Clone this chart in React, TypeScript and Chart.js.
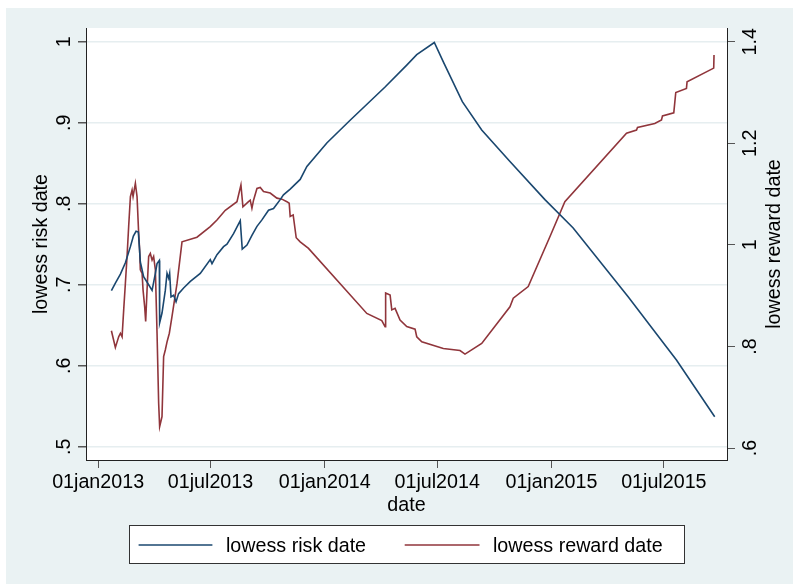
import React, { useEffect, useRef } from "react";
import { Chart, registerables } from "chart.js";

Chart.register(...registerables);

// ---- data (x = days since 01jan2013) ----
const xTickDays = [0, 181, 365, 546, 730, 911];
const xTickLabels = ["01jan2013", "01jul2013", "01jan2014", "01jul2014", "01jan2015", "01jul2015"];
const leftTicks = [0.5, 0.6, 0.7, 0.8, 0.9, 1];
const leftTickLabels = [".5", ".6", ".7", ".8", ".9", "1"];
const rightTicks = [0.6, 0.8, 1, 1.2, 1.4];
const rightTickLabels = [".6", ".8", "1", "1.2", "1.4"];

const riskDays = [
  21.4, 27.8, 35.9, 43.9, 52.0, 56.8, 61.1, 64.8, 66.4, 68.0, 73.3, 81.4, 86.9, 92.2, 94.9, 98.6,
  99.1, 102.9, 108.2, 111.0, 113.6, 115.2, 117.4, 121.6, 125.5, 129.6, 137.7, 148.5, 164.5, 180.6,
  183.4, 191.4, 202.0, 207.5, 218.1, 228.9, 232.1, 239.7, 247.7, 255.8, 263.8, 274.4, 282.5, 293.2,
  298.5, 309.3, 325.4, 336.2, 368.3, 405.8, 462.1, 497.0, 513.1, 541.4, 555.9, 586.5, 617.7, 663.2,
  719.5, 765.0, 853.5, 904.5, 931.3, 992.9,
];
const riskValues = [
  0.6926, 0.702, 0.713, 0.727, 0.747, 0.760, 0.766, 0.765, 0.747, 0.728, 0.710, 0.700, 0.693, 0.714, 0.726, 0.730,
  0.653, 0.665, 0.693, 0.714, 0.708, 0.714, 0.685, 0.687, 0.679, 0.689, 0.696, 0.704, 0.714, 0.731,
  0.726, 0.737, 0.747, 0.750, 0.763, 0.779, 0.744, 0.749, 0.761, 0.772, 0.780, 0.792, 0.794, 0.805,
  0.811, 0.818, 0.830, 0.846, 0.875, 0.903, 0.944, 0.971, 0.984, 0.999, 0.975, 0.926, 0.891, 0.852,
  0.805, 0.770, 0.685, 0.634, 0.607, 0.537,
];

const rewardDays = [
  21.4, 27.8, 30.6, 33.1, 35.9, 38.6, 41.2, 43.9, 46.6, 49.2, 52.0, 54.7, 56.3, 60.0, 62.7, 65.3,
  66.9, 68.0, 70.8, 72.4, 75.0, 76.6, 78.8, 81.4, 84.1, 86.9, 89.4, 92.2, 94.9, 97.5, 99.1, 102.9,
  105.5, 108.2, 111.0, 114.7, 119.0, 127.1, 135.1, 159.2, 180.6, 191.4, 204.8, 223.6, 230.0, 233.2,
  242.2, 245.0, 247.7, 250.3, 255.8, 261.1, 266.4, 277.1, 287.9, 296.0, 304.0, 307.7, 309.3, 314.1,
  319.0, 325.4, 338.8, 432.7, 456.8, 462.1, 463.0, 470.2, 472.9, 478.2, 486.2, 497.0, 510.4, 513.1,
  521.2, 555.9, 582.8, 590.8, 617.7, 663.2, 668.5, 692.6, 727.5, 751.6, 850.9, 867.0, 868.6, 896.4,
  907.2, 908.8, 927.0, 930.2, 947.4, 948.4, 991.3, 991.8,
];
const rewardValues = [
  0.831, 0.798, 0.809, 0.819, 0.826, 0.819, 0.872, 0.924, 0.977, 1.036, 1.095, 1.108, 1.095, 1.121, 1.095, 1.023,
  0.990, 0.951, 0.944, 0.911, 0.878, 0.849, 0.911, 0.977, 0.983, 0.970, 0.977, 0.951, 0.826, 0.688, 0.642, 0.662,
  0.780, 0.793, 0.809, 0.826, 0.859, 0.924, 1.006, 1.015, 1.036, 1.049, 1.068, 1.085, 1.118, 1.075,
  1.085, 1.088, 1.072, 1.088, 1.111, 1.113, 1.105, 1.102, 1.092, 1.090, 1.085, 1.082, 1.056, 1.059,
  1.014, 1.006, 0.993, 0.865, 0.851, 0.839, 0.905, 0.901, 0.872, 0.875, 0.852, 0.839, 0.834, 0.819,
  0.809, 0.796, 0.792, 0.785, 0.806, 0.878, 0.895, 0.918, 1.016, 1.085, 1.220, 1.226, 1.231, 1.239,
  1.246, 1.254, 1.260, 1.300, 1.308, 1.321, 1.348, 1.374,
];

const seriesNames = ["lowess risk date", "lowess reward date"];
const xTitle = "date";
const leftTitle = "lowess risk date";
const rightTitle = "lowess reward date";

const BLUE = "#1A476F";
const RED = "#90353B";
const BG = "#EAF2F3";
const FONT = '"Liberation Sans", Arial, Helvetica, sans-serif';
const FS = 19.7;

const stataPlugin = {
  id: "stataLook",
  beforeDraw(chart: any) {
    const { ctx, chartArea: a } = chart;
    ctx.save();
    ctx.fillStyle = "#ffffff";
    ctx.fillRect(0, 0, chart.width, chart.height);
    ctx.fillStyle = BG;
    ctx.fillRect(6, 8, chart.width - 6, chart.height - 8);
    ctx.fillStyle = "#ffffff";
    ctx.fillRect(a.left, a.top, a.right - a.left, a.bottom - a.top);
    ctx.restore();
  },
  afterDraw(chart: any) {
    const { ctx, chartArea: a } = chart;
    const xs = chart.scales.x;
    const yl = chart.scales.y;
    const yr = chart.scales.y1;
    ctx.save();
    ctx.fillStyle = "#000";
    ctx.font = `${FS}px ${FONT}`;
    ctx.textBaseline = "alphabetic";
    ctx.textAlign = "center";
    // x tick labels
    xTickDays.forEach((d, i) => {
      ctx.fillText(xTickLabels[i], xs.getPixelForValue(d), 488);
    });
    // x title
    ctx.fillText(xTitle, (a.left + a.right) / 2, 511);
    const rot = (txt: string, x: number, y: number) => {
      ctx.save();
      ctx.translate(x, y);
      ctx.rotate(-Math.PI / 2);
      ctx.fillText(txt, 0, 0);
      ctx.restore();
    };
    leftTicks.forEach((v, i) => rot(leftTickLabels[i], 70, yl.getPixelForValue(v)));
    rightTicks.forEach((v, i) => rot(rightTickLabels[i], 755.5, yr.getPixelForValue(v)));
    const midY = (a.top + a.bottom) / 2;
    rot(leftTitle, 47, midY);
    rot(rightTitle, 780, midY);

    // legend
    ctx.fillStyle = "#fff";
    ctx.fillRect(129.5, 525.5, 555, 38);
    ctx.strokeStyle = "#333";
    ctx.lineWidth = 1;
    ctx.strokeRect(129.5, 525.5, 555, 38);
    ctx.lineWidth = 1.6;
    ctx.strokeStyle = BLUE;
    ctx.beginPath();
    ctx.moveTo(138.6, 545);
    ctx.lineTo(212.4, 545);
    ctx.stroke();
    ctx.strokeStyle = RED;
    ctx.beginPath();
    ctx.moveTo(404.7, 545);
    ctx.lineTo(479.5, 545);
    ctx.stroke();
    ctx.fillStyle = "#000";
    ctx.textAlign = "left";
    ctx.fillText(seriesNames[0], 226, 552);
    ctx.fillText(seriesNames[1], 493, 552);
    ctx.restore();
  },
};

export default function App() {
  const ref = useRef<HTMLCanvasElement | null>(null);
  useEffect(() => {
    if (!ref.current) return;
    const chart = new Chart(ref.current, {
      type: "line",
      data: {
        datasets: [
          {
            label: seriesNames[0],
            data: riskDays.map((d, i) => ({ x: d, y: riskValues[i] })),
            borderColor: BLUE,
            borderWidth: 1.6,
            pointRadius: 0,
            tension: 0,
            yAxisID: "y",
          },
          {
            label: seriesNames[1],
            data: rewardDays.map((d, i) => ({ x: d, y: rewardValues[i] })),
            borderColor: RED,
            borderWidth: 1.6,
            pointRadius: 0,
            tension: 0,
            yAxisID: "y1",
          },
        ],
      },
      options: {
        responsive: false,
        animation: false,
        devicePixelRatio: 1,
        layout: { padding: { top: 28, left: 0, right: 0, bottom: 0 } },
        plugins: { legend: { display: false }, tooltip: { enabled: false } },
        scales: {
          x: {
            type: "linear",
            position: "bottom",
            min: -19.5,
            max: 1012.7,
            afterBuildTicks: (s: any) => {
              s.ticks = xTickDays.map((v) => ({ value: v }));
            },
            afterFit: (s: any) => {
              s.height = 124;
            },
            ticks: { display: false },
            grid: { drawOnChartArea: false, drawTicks: true, tickLength: 8, tickColor: "#555", lineWidth: 1 },
            border: { display: true, color: "#222", width: 1 },
          },
          y: {
            type: "linear",
            position: "left",
            min: 0.4836,
            max: 1.0169,
            afterBuildTicks: (s: any) => {
              s.ticks = leftTicks.map((v) => ({ value: v }));
            },
            afterFit: (s: any) => {
              s.width = 86;
            },
            ticks: { display: false },
            grid: { drawOnChartArea: true, color: "#E6EEF0", drawTicks: true, tickLength: 8, tickColor: "#555", lineWidth: 1.5 },
            border: { display: true, color: "#222", width: 1 },
          },
          y1: {
            type: "linear",
            position: "right",
            min: 0.5764,
            max: 1.427,
            afterBuildTicks: (s: any) => {
              s.ticks = rightTicks.map((v) => ({ value: v }));
            },
            afterFit: (s: any) => {
              s.width = 66;
            },
            ticks: { display: false },
            grid: { drawOnChartArea: false, drawTicks: true, tickLength: 8, tickColor: "#555", lineWidth: 1 },
            border: { display: true, color: "#222", width: 1 },
          },
        },
      },
      plugins: [stataPlugin],
    } as any);
    return () => chart.destroy();
  }, []);
  return (
    <div style={{ position: "fixed", left: 0, top: 0, width: 793, height: 584 }}>
      <canvas ref={ref} width={793} height={584} style={{ display: "block" }} />
    </div>
  );
}
